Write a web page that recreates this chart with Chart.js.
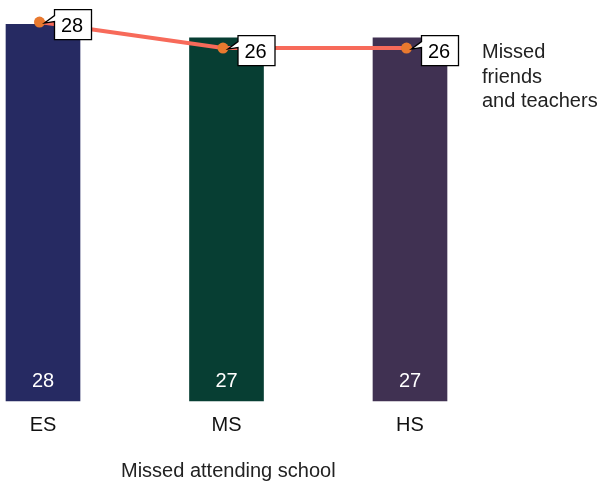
<!DOCTYPE html>
<html>
<head>
<meta charset="utf-8">
<script src="https://cdn.jsdelivr.net/npm/chart.js@4/dist/chart.umd.min.js"></script>
<style>
  html, body { margin: 0; padding: 0; background: #fff; }
  #wrap { width: 602px; height: 483px; }
</style>
</head>
<body>
<div id="wrap"><canvas id="myChart" width="602" height="483"></canvas></div>
<script>
const levels = ['ES', 'MS', 'HS'];
const attendingSchool = [28, 27, 27];
const friendsTeachers = [28, 26, 26];
const barColors = ['#262a62', '#073e33', '#403152'];
const lineName = ['Missed', 'friends', 'and teachers'];
const axisName = 'Missed attending school';

const FONT = '"Liberation Sans", Arial, sans-serif';
const LINE_SHIFT = -3.5; // line sits a touch left of the bar centres

// value labels: white numbers at the foot of each bar, boxed callouts on the line
const labelsPlugin = {
  id: 'labels',
  beforeDatasetDraw(chart, args) {
    if (args.index === 1) {
      chart.ctx.save();
      chart.ctx.translate(LINE_SHIFT, 0);
    }
  },
  afterDatasetDraw(chart, args) {
    if (args.index === 1) chart.ctx.restore();
  },
  afterDatasetsDraw(chart) {
    const ctx = chart.ctx;
    ctx.save();
    ctx.font = '20px ' + FONT;

    const bars = chart.getDatasetMeta(0).data;
    ctx.fillStyle = '#ffffff';
    ctx.textAlign = 'center';
    ctx.textBaseline = 'alphabetic';
    bars.forEach(function(bar, i) {
      ctx.fillText(String(attendingSchool[i]), bar.x, chart.chartArea.bottom - 14);
    });

    const pts = chart.getDatasetMeta(1).data;
    pts.forEach(function(pt, i) {
      const px = pt.x + LINE_SHIFT, py = pt.y;
      const bx = px + 15, by = py - 12.5, bw = 37, bh = 30;
      ctx.beginPath();
      ctx.moveTo(bx, by);
      ctx.lineTo(bx + bw, by);
      ctx.lineTo(bx + bw, by + bh);
      ctx.lineTo(bx, by + bh);
      ctx.lineTo(bx, by + 12);
      ctx.lineTo(px + 5, py + 1);
      ctx.lineTo(bx, by + 6);
      ctx.closePath();
      ctx.fillStyle = '#ffffff';
      ctx.fill();
      ctx.lineWidth = 1.3;
      ctx.strokeStyle = '#000000';
      ctx.stroke();
      ctx.fillStyle = '#000000';
      ctx.textAlign = 'center';
      ctx.fillText(String(friendsTeachers[i]), bx + bw / 2 - 1, by + 22);
    });

    // series name next to the line, axis name under the categories
    ctx.fillStyle = '#222222';
    ctx.textAlign = 'left';
    lineName.forEach(function(t, i) {
      ctx.fillText(t, 482, 58 + i * 24.5);
    });
    ctx.fillText(axisName, 121, 477);
    ctx.restore();
  }
};

new Chart('myChart', {
  type: 'bar',
  data: {
    labels: levels,
    datasets: [{
      type: 'bar',
      data: attendingSchool,
      backgroundColor: barColors,
      barThickness: 74,
      yAxisID: 'y',
      order: 1,
      clip: false
    }, {
      type: 'line',
      data: friendsTeachers,
      borderColor: '#f76a5a',
      borderWidth: 4,
      pointRadius: 5.5,
      pointBackgroundColor: '#e8792f',
      pointBorderWidth: 0,
      yAxisID: 'y1',
      order: 0,
      clip: false
    }]
  },
  plugins: [labelsPlugin],
  options: {
    responsive: false,
    animation: false,
    layout: { padding: { left: 43, right: 192, top: 11, bottom: 34 } },
    plugins: {
      legend: { display: false },
      tooltip: { enabled: false }
    },
    scales: {
      x: {
        offset: false,
        grid: { display: false, drawTicks: false, tickLength: 0 },
        border: { display: false },
        ticks: { color: '#111', font: { family: FONT, size: 20 }, padding: 12, maxRotation: 0 }
      },
      y: {
        display: false,
        min: 0,
        max: 29
      },
      y1: {
        display: false,
        min: -1.15,
        max: 28.85
      }
    }
  }
});
</script>
</body>
</html>
